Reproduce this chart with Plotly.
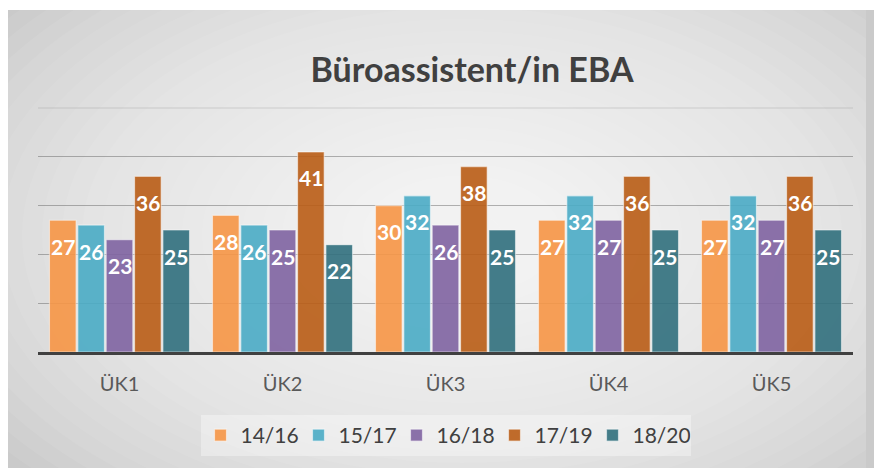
import plotly.graph_objects as go

categories = ["ÜK1", "ÜK2", "ÜK3", "ÜK4", "ÜK5"]
series_names = ["14/16", "15/17", "16/18", "17/19", "18/20"]
values_1416 = [27, 28, 30, 27, 27]
values_1517 = [26, 26, 32, 32, 32]
values_1618 = [23, 25, 26, 27, 27]
values_1719 = [36, 41, 38, 36, 36]
values_1820 = [25, 22, 25, 25, 25]
series_values = [values_1416, values_1517, values_1618, values_1719, values_1820]
colors = ["#F79646", "#4BACC6", "#8064A2", "#BA5D16", "#31707E"]
title_text = "Büroassistent/in EBA"

W, H = 874, 468
OFF = 8  # page offset of the figure (body margin)
ML, MR, MT, MB = 30, 29, 100, 124
PW = W - ML - MR
PH = H - MT - MB
FONT = "Lato"


def px_x(x):  # page px -> paper
    return (x - OFF - ML) / PW


def px_y(y):
    return (H - MB - (y - OFF)) / PH


fig = go.Figure()
for name, vals, col in zip(series_names, series_values, colors):
    fig.add_trace(go.Bar(
        name=name, x=categories, y=vals,
        marker=dict(color=col, line=dict(color="rgba(255,255,255,0.55)", width=1.2)),
        opacity=0.9,
    ))

bargap = 0.13
cat_px = PW / len(categories)
pitch = cat_px * (1 - bargap) / len(series_names)

annotations = []
for i, vals in enumerate(series_values):
    for cat, v in zip(categories, vals):
        annotations.append(dict(
            x=cat, y=v, xref="x", yref="y", text=str(v), showarrow=False,
            xshift=(i - (len(series_names) - 1) / 2) * pitch, yshift=-26,
            yanchor="middle",
            font=dict(family=FONT, size=21, color="white", weight="bold"),
        ))

shapes = []
# radial gradient approximation
N = 30
cx, cy, rx, ry = 462, 235, 600, 360
for k in range(N):
    f = 1 - k / N
    shapes.append(dict(type="circle", xref="paper", yref="paper", layer="below",
                       x0=px_x(cx - rx * f), x1=px_x(cx + rx * f),
                       y0=px_y(cy + ry * f), y1=px_y(cy - ry * f),
                       fillcolor="rgba(255,255,255,0.07)", line=dict(width=0)))
# white strip above frame
shapes.append(dict(type="rect", xref="paper", yref="paper", layer="below",
                   x0=px_x(-5), x1=px_x(W + 20), y0=px_y(10), y1=px_y(-5),
                   fillcolor="white", line=dict(width=0)))
# top light gridline
shapes.append(dict(type="line", xref="paper", yref="paper", layer="below",
                   x0=0, x1=1, y0=1, y1=1,
                   line=dict(color="rgba(150,150,150,0.35)", width=1)))

fig.update_layout(
    width=W, height=H,
    margin=dict(l=ML, r=MR, t=MT, b=MB),
    paper_bgcolor="#c6c6c6", plot_bgcolor="rgba(0,0,0,0)",
    barmode="group", bargap=bargap, bargroupgap=0.06,
    title=dict(text=title_text, x=(472 - OFF) / W, y=1 - (70 - OFF) / H,
               xanchor="center", yanchor="middle",
               font=dict(family=FONT, size=34, color="#404040", weight="bold")),
    xaxis=dict(showline=True, linecolor="#404040", linewidth=3, ticks="",
               tickfont=dict(family=FONT, size=20, color="#595959"),
               ticklabelstandoff=12, showgrid=False),
    yaxis=dict(range=[0, 50], tickmode="array", tickvals=[10, 20, 30, 40],
               showticklabels=False, showgrid=True,
               gridcolor="rgba(90,90,90,0.45)", gridwidth=1, zeroline=False),
    legend=dict(orientation="h", x=0.5, xanchor="center", y=px_y(415), yanchor="top",
                bgcolor="rgba(255,255,255,0.35)", entrywidth=53,
                font=dict(family=FONT, size=21, color="#404040")),
    annotations=annotations,
    shapes=shapes,
    font=dict(family=FONT),
)

page_bg = ("linear-gradient(to bottom, #ffffff 10px, rgba(255,255,255,0) 10px),"
           "linear-gradient(to right, #ffffff 8px, #cacaca 8px)")
fig.write_html("out.html",
               post_script="document.documentElement.style.background='" + page_bg + "';")
